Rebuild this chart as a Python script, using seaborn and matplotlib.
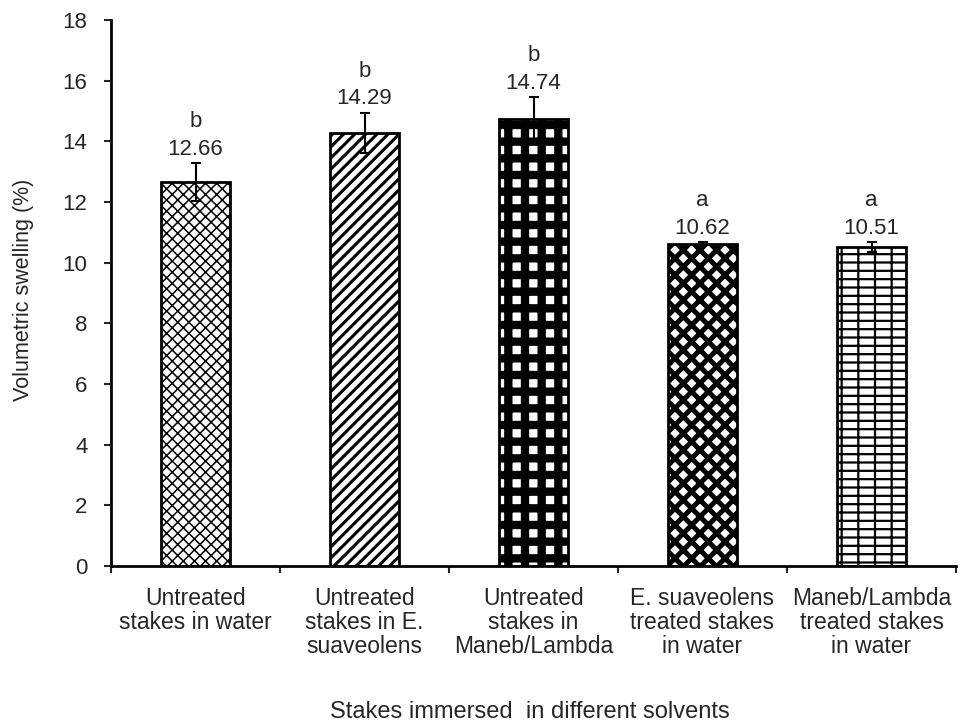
import matplotlib
matplotlib.use("Agg")
import matplotlib.pyplot as plt
import seaborn as sns
import pandas as pd

categories = [
    "Untreated\nstakes in water",
    "Untreated\nstakes in E.\nsuaveolens",
    "Untreated\nstakes in\nManeb/Lambda",
    "E. suaveolens\ntreated stakes\nin water",
    "Maneb/Lambda\ntreated stakes\nin water",
]
values = [12.66, 14.29, 14.74, 10.62, 10.51]
errors = [0.63, 0.66, 0.73, 0.05, 0.17]
letters = ["b", "b", "b", "a", "a"]
hatches = ["xxx", "///", "+", "xx", "--|"]
hatch_lw = [1.1, 2.2, 6.0, 3.6, 1.6]

sns.set_theme(style="white")
plt.rcParams["font.family"] = ["Liberation Sans", "DejaVu Sans"]

df = pd.DataFrame({"cat": categories, "val": values})

fig = plt.figure(figsize=(9.61, 7.23), dpi=100)
ax = fig.add_axes([111 / 961, 1 - 566 / 723, 845 / 961, 546 / 723])

sns.barplot(data=df, x="cat", y="val", ax=ax, color="white", width=0.41,
            edgecolor="black", linewidth=2, errorbar=None)
for p, h, lw in zip(ax.patches, hatches, hatch_lw):
    p.set_facecolor("white")
    p.set_edgecolor("black")
    p.set_hatch(h)
    if hasattr(p, "set_hatch_linewidth"):
        p.set_hatch_linewidth(lw)

xs = list(range(len(categories)))
ax.errorbar(xs, values, yerr=errors, fmt="none", ecolor="black",
            elinewidth=1.5, capsize=3.5, capthick=1.5)

for x, v, e, l in zip(xs, values, errors, letters):
    ax.text(x, v + e + 0.27, f"{v:.2f}", ha="center", va="baseline",
            fontsize=16)
    ax.annotate(l, (x, v + e + 0.27), xytext=(0, 20), textcoords="offset points",
                ha="center", va="baseline", fontsize=16)

ax.set_ylim(0, 18)
ax.set_yticks(range(0, 19, 2))
ax.set_xlim(-0.5, 4.5)
ax.set_xticks([i - 0.5 for i in range(len(categories) + 1)])
ax.set_xticklabels([])
for x, c in zip(xs, categories):
    ax.text(x, -0.7, c, ha="center", va="top", fontsize=16.5, linespacing=1.05)

ax.tick_params(axis="both", direction="out", length=5, width=1.5,
               labelsize=16, bottom=True, left=True)
ax.tick_params(axis="y", pad=12)
for s in ["top", "right"]:
    ax.spines[s].set_visible(False)
for s in ["left", "bottom"]:
    ax.spines[s].set_linewidth(2)
    ax.spines[s].set_color("black")

ax.set_ylabel("")
ax.set_xlabel("")
fig.text(24 / 961, 1 - 290 / 723, "Volumetric swelling (%)", rotation=90,
         ha="center", va="center", fontsize=15.5)
fig.text(530 / 961, 5 / 723, "Stakes immersed  in different solvents", ha="center",
         va="baseline", fontsize=17)

fig.savefig("out.png", dpi=100)
